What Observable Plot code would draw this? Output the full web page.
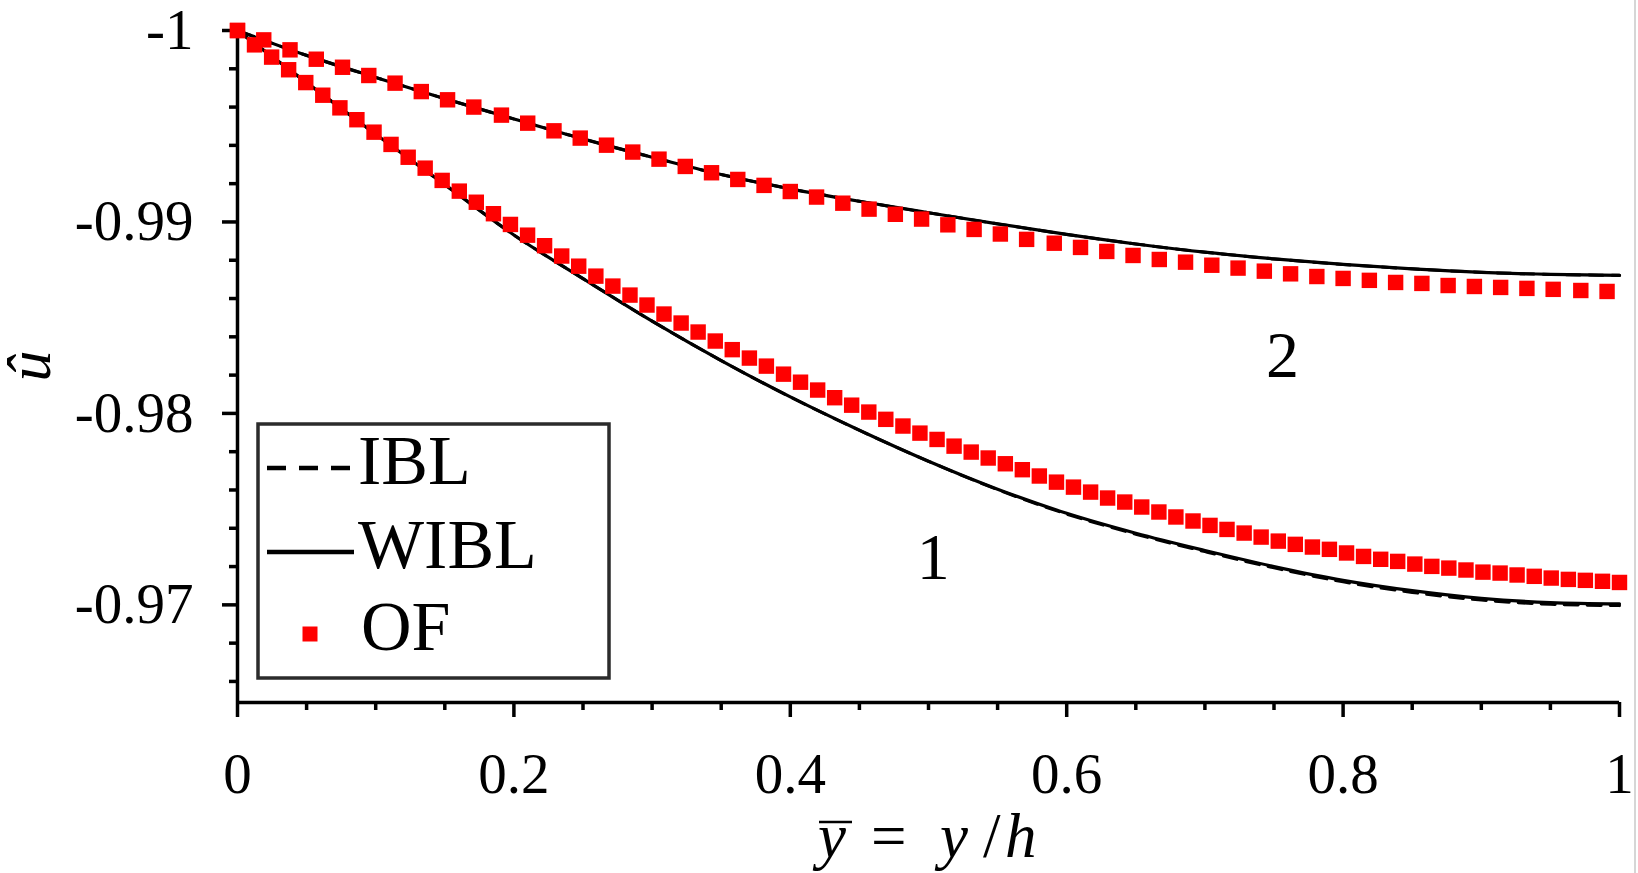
<!DOCTYPE html>
<html><head><meta charset="utf-8">
<script src="https://cdn.jsdelivr.net/npm/d3@7"></script>
<script src="https://cdn.jsdelivr.net/npm/@observablehq/plot@0.6"></script>
<style>
body{margin:0;background:#fff}
#wrap{position:relative;width:1638px;height:873px;overflow:hidden}
#edge{position:absolute;left:1634px;top:0;width:2px;height:873px;background:#d6d6d6}
</style>
</head><body><div id="wrap"><div id="edge"></div></div>
<script>
// ---- data ----
const lineX = [0,0.05,0.1,0.15,0.2,0.25,0.3,0.35,0.4,0.45,0.5,0.55,0.6,0.65,0.7,0.75,0.8,0.85,0.9,0.95,1];
const wibl1 = [-1,-0.99728,-0.99458,-0.99195,-0.98932,-0.98704,-0.98482,-0.98276,-0.98086,-0.97912,-0.97750,-0.97604,-0.97478,-0.97374,-0.97284,-0.97200,-0.97128,-0.97074,-0.97034,-0.97012,-0.97005];
const ibl1  = [-1,-0.99728,-0.99458,-0.99195,-0.98932,-0.98704,-0.98482,-0.98276,-0.98086,-0.97912,-0.97750,-0.97602,-0.97474,-0.97369,-0.97278,-0.97193,-0.97120,-0.97065,-0.97025,-0.97003,-0.96996];
const wibl2 = [-1,-0.99870,-0.99755,-0.99644,-0.99538,-0.99434,-0.99338,-0.99248,-0.99173,-0.99108,-0.99048,-0.98990,-0.98935,-0.98885,-0.98842,-0.98807,-0.98778,-0.98755,-0.98737,-0.98726,-0.98721];
const ibl2  = [-1,-0.99870,-0.99755,-0.99644,-0.99538,-0.99434,-0.99338,-0.99248,-0.99173,-0.99108,-0.99048,-0.98990,-0.98935,-0.98885,-0.98842,-0.98807,-0.98778,-0.98755,-0.98737,-0.98726,-0.98721];

const of1X = [0,0.0123,0.0247,0.0370,0.0494,0.0617,0.0741,0.0864,0.0988,0.1111,0.1235,0.1358,0.1481,0.1605,0.1728,0.1852,0.1975,0.2099,0.2222,0.2346,0.2469,0.2593,0.2716,0.2840,0.2963,0.3086,0.3210,0.3333,0.3457,0.3580,0.3704,0.3827,0.3951,0.4074,0.4198,0.4321,0.4444,0.4568,0.4691,0.4815,0.4938,0.5062,0.5185,0.5309,0.5432,0.5556,0.5679,0.5802,0.5926,0.6049,0.6173,0.6296,0.6420,0.6543,0.6667,0.6790,0.6914,0.7037,0.7160,0.7284,0.7407,0.7531,0.7654,0.7778,0.7901,0.8025,0.8148,0.8272,0.8395,0.8519,0.8642,0.8765,0.8889,0.9012,0.9136,0.9259,0.9383,0.9506,0.9630,0.9753,0.9877,1.0000];
const of1U = [-1.00000,-0.99925,-0.99861,-0.99795,-0.99728,-0.99662,-0.99596,-0.99534,-0.99469,-0.99405,-0.99338,-0.99281,-0.99217,-0.99161,-0.99103,-0.99043,-0.98987,-0.98931,-0.98876,-0.98822,-0.98769,-0.98717,-0.98665,-0.98618,-0.98566,-0.98519,-0.98472,-0.98425,-0.98378,-0.98333,-0.98289,-0.98247,-0.98205,-0.98163,-0.98122,-0.98082,-0.98043,-0.98007,-0.97969,-0.97934,-0.97897,-0.97864,-0.97829,-0.97798,-0.97767,-0.97737,-0.97706,-0.97673,-0.97641,-0.97615,-0.97589,-0.97558,-0.97537,-0.97511,-0.97485,-0.97459,-0.97438,-0.97415,-0.97394,-0.97375,-0.97354,-0.97333,-0.97316,-0.97302,-0.97290,-0.97271,-0.97253,-0.97238,-0.97227,-0.97213,-0.97201,-0.97192,-0.97182,-0.97171,-0.97166,-0.97156,-0.97149,-0.97140,-0.97133,-0.97128,-0.97123,-0.97117];

const of2X = [0,0.019,0.038,0.057,0.076,0.095,0.114,0.133,0.152,0.171,0.191,0.210,0.229,0.248,0.267,0.286,0.305,0.324,0.343,0.362,0.381,0.400,0.419,0.438,0.457,0.476,0.495,0.514,0.533,0.552,0.571,0.591,0.610,0.629,0.648,0.667,0.686,0.705,0.724,0.743,0.762,0.781,0.800,0.819,0.838,0.857,0.876,0.895,0.914,0.933,0.952,0.972,0.991];
const of2U = [-1.00000,-0.99951,-0.99899,-0.99850,-0.99808,-0.99765,-0.99725,-0.99681,-0.99638,-0.99600,-0.99558,-0.99516,-0.99476,-0.99438,-0.99401,-0.99365,-0.99328,-0.99290,-0.99257,-0.99222,-0.99191,-0.99159,-0.99130,-0.99098,-0.99067,-0.99040,-0.99015,-0.98985,-0.98961,-0.98937,-0.98909,-0.98889,-0.98867,-0.98846,-0.98825,-0.98804,-0.98790,-0.98774,-0.98759,-0.98743,-0.98729,-0.98715,-0.98705,-0.98695,-0.98684,-0.98679,-0.98668,-0.98663,-0.98658,-0.98653,-0.98648,-0.98642,-0.98637];

const annotX = [0.5035, 0.7561];
const annotY = [-0.97243, -0.98303];
const annotText = ["1", "2"];

const xMajor = [0, 0.2, 0.4, 0.6, 0.8, 1];
const xMinor = [0.05,0.1,0.15,0.25,0.3,0.35,0.45,0.5,0.55,0.65,0.7,0.75,0.85,0.9,0.95];
const yMajor = [-1, -0.99, -0.98, -0.97];
const yMinor = [-0.998,-0.996,-0.994,-0.992,-0.988,-0.986,-0.984,-0.982,-0.978,-0.976,-0.974,-0.972,-0.968,-0.966];
const yBottom = -0.9649;

// ---- tables ----
const lines = lineX.flatMap((x, i) => [
  {x, u: wibl1[i], s: "WIBL1"}, {x, u: wibl2[i], s: "WIBL2"}
]);
const dashed = lineX.flatMap((x, i) => [
  {x, u: ibl1[i], s: "IBL1"}, {x, u: ibl2[i], s: "IBL2"}
]);
const of = [
  ...of1X.map((x, i) => ({x, u: of1U[i]})),
  ...of2X.map((x, i) => ({x, u: of2U[i]}))
];
const annots = annotX.map((x, i) => ({x, u: annotY[i], t: annotText[i]}));

const FONT = "Liberation Serif, Times New Roman, serif";
const plot = Plot.plot({
  width: 1638, height: 873,
  marginLeft: 237, marginRight: 19, marginTop: 30, marginBottom: 171,
  x: {domain: [0, 1]},
  y: {domain: [-1, yBottom], reverse: true},
  style: {fontFamily: FONT, background: "white", color: "black", overflow: "visible"},
  marks: [
    Plot.axisX({ticks: xMinor, tickSize: 8, tickFormat: () => "", label: null, strokeWidth: 3.5}),
    Plot.axisX({ticks: xMajor, tickSize: 15, tickPadding: 35, tickFormat: d => String(d), fontSize: 57, fontFamily: FONT, label: null, strokeWidth: 3.5}),
    Plot.axisY({ticks: yMinor, tickSize: 8, tickFormat: () => "", label: null, strokeWidth: 3.5}),
    Plot.axisY({ticks: yMajor, tickSize: 15, tickPadding: 29, tickFormat: d => String(d), fontSize: 57, fontFamily: FONT, label: null, strokeWidth: 3.5}),
    Plot.ruleX([0], {stroke: "black", strokeWidth: 3.5}),
    Plot.ruleY([yBottom], {stroke: "black", strokeWidth: 3.5}),
    Plot.line(dashed, {x: "x", y: "u", z: "s", stroke: "black", strokeWidth: 3, strokeDasharray: "14,9", curve: "monotone-x"}),
    Plot.line(lines, {x: "x", y: "u", z: "s", stroke: "black", strokeWidth: 3.2, curve: "monotone-x"}),
    Plot.dot(of, {x: "x", y: "u", symbol: "square", r: 8.7, fill: "#ff0000", stroke: "none"}),
    Plot.text(annots, {x: "x", y: "u", text: "t", fontSize: 66, fontFamily: FONT, fill: "black"})
  ]
});
document.getElementById("wrap").prepend(plot);

const svg = d3.select(plot);
// axis titles
const g = svg.append("g").attr("font-family", FONT).attr("fill", "black").attr("text-anchor", "start");
const tt = g.append("g").attr("font-size", 63);
tt.append("text").attr("x", 818).attr("y", 857).attr("font-style", "italic").text("y");
tt.append("line").attr("x1", 819).attr("x2", 852).attr("y1", 822).attr("y2", 822).attr("stroke", "black").attr("stroke-width", 2.5);
tt.append("text").attr("x", 871).attr("y", 857).text("=");
tt.append("text").attr("x", 940).attr("y", 857).attr("font-style", "italic").text("y");
tt.append("text").attr("x", 983).attr("y", 857).text("/");
tt.append("text").attr("x", 1005).attr("y", 857).attr("font-style", "italic").text("h");
g.append("text").attr("transform", "translate(50,366) rotate(-90)").attr("text-anchor", "middle")
  .attr("font-size", 62).attr("font-style", "italic").text("\u00fb");

// legend
const lg = svg.append("g").attr("font-family", FONT).attr("text-anchor", "start").attr("fill", "black");
lg.append("rect").attr("x", 258).attr("y", 424).attr("width", 351).attr("height", 254)
  .attr("fill", "white").attr("stroke", "#2b2b2b").attr("stroke-width", 3.5);
lg.append("line").attr("x1", 267).attr("x2", 354).attr("y1", 468).attr("y2", 468)
  .attr("stroke", "black").attr("stroke-width", 4.5).attr("stroke-dasharray", "19,13");
lg.append("line").attr("x1", 267).attr("x2", 354).attr("y1", 552).attr("y2", 552)
  .attr("stroke", "black").attr("stroke-width", 4.5);
lg.append("rect").attr("x", 302.5).attr("y", 626.5).attr("width", 15).attr("height", 15).attr("fill", "#ff0000");
lg.append("text").attr("x", 358).attr("y", 484).attr("font-size", 70).text("IBL");
lg.append("text").attr("x", 358).attr("y", 568).attr("font-size", 70).text("WIBL");
lg.append("text").attr("x", 361).attr("y", 650).attr("font-size", 70).text("OF");
</script></body></html>
